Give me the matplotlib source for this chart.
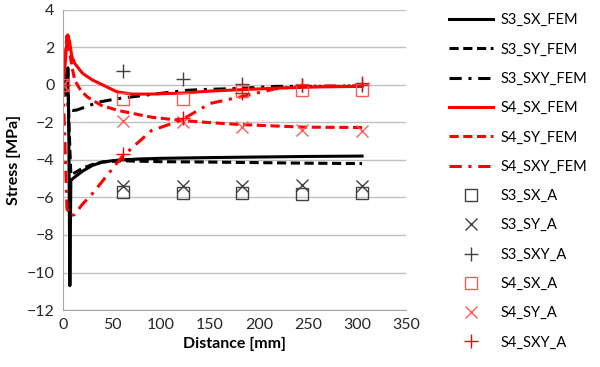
import matplotlib
matplotlib.use("Agg")
import matplotlib.pyplot as plt

plt.rcParams['font.family'] = ['Lato', 'DejaVu Sans']

# FEM curves (distance mm, stress MPa)
s3_sx_x = [0, 3, 5, 6, 7, 8, 10, 15, 20, 30, 40, 50, 60, 80, 100, 150, 200, 250, 305]
s3_sx_y = [-0.1, 0.5, 0.9, -3.0, -10.7, -5.1, -5.0, -4.8, -4.6, -4.3, -4.12, -4.05, -4.0, -3.95, -3.92, -3.88, -3.85, -3.82, -3.8]

s3_sy_x = [0, 3, 5, 6, 8, 10, 15, 20, 30, 40, 60, 100, 150, 200, 250, 305]
s3_sy_y = [0, 0.5, 0.8, -2.0, -4.8, -4.75, -4.6, -4.45, -4.25, -4.12, -4.05, -4.1, -4.12, -4.15, -4.18, -4.2]

s3_sxy_x = [0, 3, 6, 10, 14, 22, 36, 55, 82, 126, 147, 180, 218, 280, 305]
s3_sxy_y = [0, -0.5, -1.3, -1.37, -1.35, -1.2, -0.93, -0.75, -0.57, -0.3, -0.25, -0.2, -0.09, -0.09, -0.05]

s4_sx_x = [0, 2, 4, 5, 7, 9, 12, 20, 30, 40, 55, 70, 90, 120, 150, 180, 220, 260, 305]
s4_sx_y = [0, 1.0, 2.3, 2.65, 2.2, 1.5, 1.13, 0.6, 0.25, 0.0, -0.38, -0.5, -0.5, -0.45, -0.34, -0.27, -0.18, -0.12, -0.09]

s4_sy_x = [0, 2, 4, 6, 9, 12, 18, 25, 39, 56, 73, 90, 120, 150, 180, 245, 305]
s4_sy_y = [0, 1.3, 2.6, 2.0, 1.0, 0.23, -0.3, -0.66, -1.1, -1.37, -1.55, -1.73, -1.9, -2.02, -2.12, -2.26, -2.28]

s4_sxy_x = [0, 2, 4, 8, 12, 20, 30, 40, 60, 90, 120, 150, 180, 218, 250, 305]
s4_sxy_y = [0, -3.0, -6.6, -7.0, -6.9, -6.35, -5.8, -5.15, -3.85, -2.45, -1.9, -1.0, -0.66, -0.2, -0.08, -0.05]

# analytical points
a3_x = [61, 122, 183, 244, 305]
s3_sx_a = [-5.73, -5.75, -5.75, -5.8, -5.78]
s3_sy_a = [-5.4, -5.4, -5.4, -5.35, -5.4]
s3_sxy_a = [0.71, 0.32, 0.05, -0.04, -0.04]

a4_x = [0, 61, 122, 183, 244, 305]
s4_sx_a = [0, -0.78, -0.75, -0.34, -0.3, -0.3]
s4_sy_a = [0, -1.94, -2.0, -2.25, -2.4, -2.47]
s4_sxy_a = [0, -3.67, -1.8, -0.45, -0.04, 0.07]

red = '#ff0000'
lred = '#ff5a5a'
dgray = '#404040'

fig = plt.figure(figsize=(6, 3.67), dpi=100)
ax = fig.add_axes([0.105, 0.155, 0.572, 0.819])

lw = 2.2
dash = (0, (3, 1.5))
dashdot = (0, (4, 2.2, 1, 2.2))
ax.plot(s3_sx_x, s3_sx_y, color='black', lw=lw, label='S3_SX_FEM')
ax.plot(s3_sy_x, s3_sy_y, color='black', lw=lw, ls=dash, label='S3_SY_FEM')
ax.plot(s3_sxy_x, s3_sxy_y, color='black', lw=lw, ls=dashdot, label='S3_SXY_FEM')
ax.plot(s4_sx_x, s4_sx_y, color=red, lw=lw, label='S4_SX_FEM')
ax.plot(s4_sy_x, s4_sy_y, color=red, lw=lw, ls=dash, label='S4_SY_FEM')
ax.plot(s4_sxy_x, s4_sxy_y, color=red, lw=lw, ls=dashdot, label='S4_SXY_FEM')

ms = 9
ax.plot(a3_x, s3_sx_a, ls='none', marker='s', ms=ms, mfc='none', mec=dgray, mew=1, label='S3_SX_A')
ax.plot(a3_x, s3_sy_a, ls='none', marker='x', ms=ms, mec=dgray, mew=1, label='S3_SY_A')
ax.plot(a3_x, s3_sxy_a, ls='none', marker='+', ms=ms + 1, mec=dgray, mew=1, label='S3_SXY_A')
ax.plot(a4_x, s4_sx_a, ls='none', marker='s', ms=ms, mfc='none', mec=lred, mew=1, label='S4_SX_A')
ax.plot(a4_x, s4_sy_a, ls='none', marker='x', ms=ms, mec=lred, mew=1, label='S4_SY_A')
ax.plot(a4_x, s4_sxy_a, ls='none', marker='+', ms=ms + 1, mec=red, mew=1, label='S4_SXY_A')

ax.set_xlim(0, 350)
ax.set_ylim(-12, 4)
ax.set_xticks(range(0, 351, 50))
ax.set_yticks(range(-12, 5, 2))
ax.grid(axis='y', color='#c0c0c0', lw=1)
ax.set_axisbelow(True)
for s in ['top', 'right']:
    ax.spines[s].set_visible(False)
for s in ['left', 'bottom']:
    ax.spines[s].set_color('#a6a6a6')
ax.tick_params(length=0, labelsize=11.5, colors='#262626', pad=6)
ax.set_xlabel('Distance [mm]', fontsize=11.5, fontweight='bold', labelpad=3)
ax.set_ylabel('Stress [MPa]', fontsize=11.5, fontweight='bold', labelpad=4)

fig.legend(loc='upper left', bbox_to_anchor=(0.727, 1.0), frameon=False,
           fontsize=10.5, handlelength=3.0, labelspacing=1.05, handletextpad=0.5)

fig.savefig('out.png', dpi=100)
